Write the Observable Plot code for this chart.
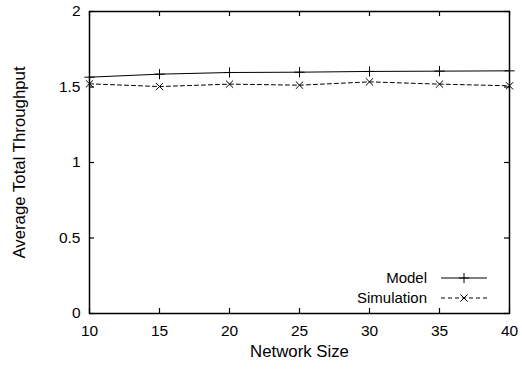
<!DOCTYPE html>
<html>
<head>
<meta charset="utf-8">
<script src="https://cdn.jsdelivr.net/npm/d3@7"></script>
<script src="https://cdn.jsdelivr.net/npm/@observablehq/plot@0.6"></script>
<style>
  html, body { margin: 0; padding: 0; background: #fff; }
  #chart svg { display: block; }
</style>
</head>
<body>
<div id="chart"></div>
<script>
// Network sizes tested
const networkSize = [10, 15, 20, 25, 30, 35, 40];
// Average total throughput: analytical model vs. simulation
const modelThroughput = [1.565, 1.585, 1.596, 1.598, 1.603, 1.605, 1.607];
const simThroughput = [1.521, 1.503, 1.519, 1.512, 1.534, 1.519, 1.508];
// Axis ticks
const xTicks = [10, 15, 20, 25, 30, 35, 40];
const yTicks = [0, 0.5, 1, 1.5, 2];
const yTickLabels = ["0", "0.5", "1", "1.5", "2"];
const seriesNames = ["Model", "Simulation"];

const model = networkSize.map((n, i) => ({n, v: modelThroughput[i]}));
const sim = networkSize.map((n, i) => ({n, v: simThroughput[i]}));

const W = 522, H = 373;
const M = {top: 11, right: 13, bottom: 60, left: 89};
const innerW = W - M.left - M.right;
const innerH = H - M.top - M.bottom;
const tick = 5;
const font = "'Liberation Sans', Arial, Helvetica, sans-serif";

const chart = Plot.plot({
  width: W,
  height: H,
  marginTop: M.top,
  marginRight: M.right,
  marginBottom: M.bottom,
  marginLeft: M.left,
  style: {fontFamily: font, fontSize: "15.5px", color: "#000", background: "#fff"},
  x: {domain: [10, 40]},
  y: {domain: [0, 2]},
  marks: [
    // inward tick marks on all four sides
    Plot.tickX(xTicks, {x: d => d, insetTop: innerH - tick, stroke: "#000", strokeWidth: 1.2}),
    Plot.tickX(xTicks, {x: d => d, insetBottom: innerH - tick, stroke: "#000", strokeWidth: 1.2}),
    Plot.tickY(yTicks, {y: d => d, insetRight: innerW - tick, stroke: "#000", strokeWidth: 1.2}),
    Plot.tickY(yTicks, {y: d => d, insetLeft: innerW - tick, stroke: "#000", strokeWidth: 1.2}),
    Plot.axisX({ticks: xTicks, tickSize: 0, tickPadding: 11, label: null, fontSize: 15.5}),
    Plot.axisY({ticks: yTicks, tickSize: 0, tickPadding: 9, label: null, fontSize: 15.5,
      tickFormat: d => yTickLabels[yTicks.indexOf(d)]}),
    Plot.text(["Network Size"], {frameAnchor: "bottom", dy: 43, fontSize: 16.8, fill: "#000"}),
    Plot.text(["Average Total Throughput"], {frameAnchor: "left", textAnchor: "middle", dx: -70, rotate: -90, fontSize: 16.8, fill: "#000"}),
    // series
    Plot.line(model, {x: "n", y: "v", stroke: "#000", strokeWidth: 1}),
    Plot.dot(model, {x: "n", y: "v", symbol: "plus", r: 3.4, stroke: "#000", strokeWidth: 1, fill: "none"}),
    Plot.line(sim, {x: "n", y: "v", stroke: "#000", strokeWidth: 1, strokeDasharray: "4,3"}),
    Plot.dot(sim, {x: "n", y: "v", symbol: "times", r: 3.4, stroke: "#000", strokeWidth: 1, fill: "none"}),
    Plot.frame({stroke: "#000", strokeWidth: 1.5})
  ]
});

// legend inside the lower-right corner of the frame
const svg = d3.select(chart);
const lg = svg.append("g")
  .attr("font-family", font)
  .attr("font-size", 15)
  .attr("transform", `translate(${W - M.right - 82},${H - M.bottom - 35})`);
const styles = [
  {dash: null, symbol: d3.symbolPlus},
  {dash: "4,3", symbol: d3.symbolTimes}
];
seriesNames.forEach((name, i) => {
  const row = lg.append("g").attr("transform", `translate(0,${i * 20})`);
  row.append("text").attr("text-anchor", "end").attr("dy", "0.35em").attr("fill", "#000").text(name);
  row.append("line").attr("x1", 14).attr("x2", 60).attr("stroke", "#000").attr("stroke-width", 1)
    .attr("stroke-dasharray", styles[i].dash);
  row.append("path").attr("transform", "translate(37,0)")
    .attr("d", d3.symbol(styles[i].symbol, 36)())
    .attr("fill", "none").attr("stroke", "#000").attr("stroke-width", 1);
});

document.getElementById("chart").appendChild(chart);
</script>
</body>
</html>
